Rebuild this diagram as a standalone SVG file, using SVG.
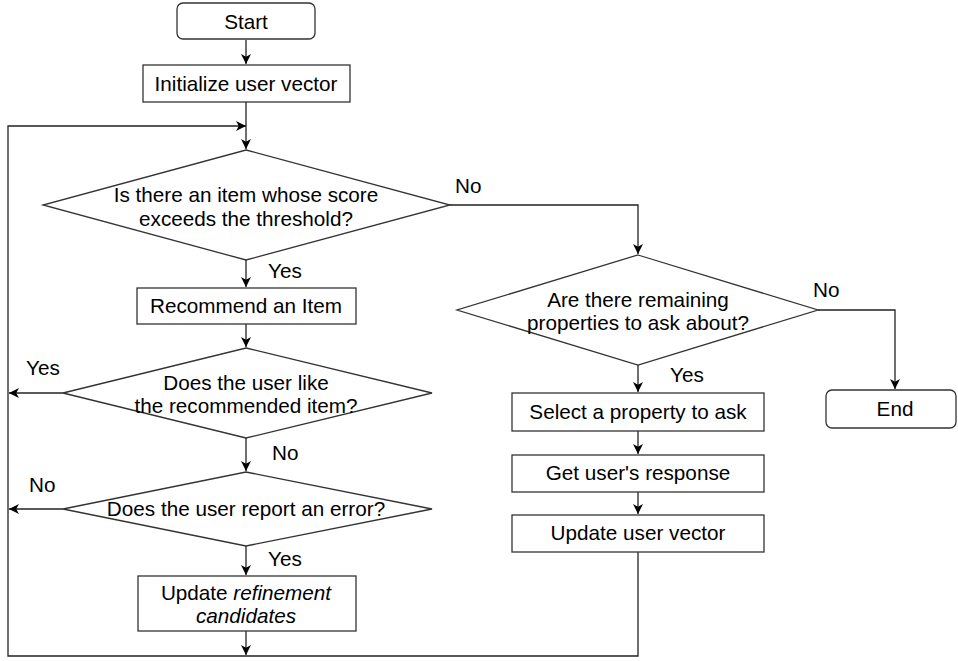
<svg xmlns="http://www.w3.org/2000/svg" width="958" height="661" viewBox="0 0 958 661">
<style>
.box{fill:#fff;stroke:#333;stroke-width:1.3}
.ln{fill:none;stroke:#222;stroke-width:1.3}
text{font-family:"Liberation Sans",Arial,sans-serif;font-size:20.7px;fill:#000}
.c{text-anchor:middle}
.i{font-style:italic}
</style>
<defs>
<marker id="ah" markerUnits="userSpaceOnUse" markerWidth="11" markerHeight="11" refX="10" refY="5.5" orient="auto">
<path d="M0,0.5 L10,5.5 L0,10.5 L2.8,5.5 z" fill="#000"/>
</marker>
</defs>
<g id="connectors">
<path class="ln" d="M246,40 V64" marker-end="url(#ah)"/>
<path class="ln" d="M246,102 V149" marker-end="url(#ah)"/>
<path class="ln" d="M638,552 V656 H8 V126 H246" marker-end="url(#ah)"/>
<path class="ln" d="M450,205 H638 V254" marker-end="url(#ah)"/>
<path class="ln" d="M246,260 V287" marker-end="url(#ah)"/>
<path class="ln" d="M246,324 V347" marker-end="url(#ah)"/>
<path class="ln" d="M63,393 H9" marker-end="url(#ah)"/>
<path class="ln" d="M246,438 V471" marker-end="url(#ah)"/>
<path class="ln" d="M63,509 H9" marker-end="url(#ah)"/>
<path class="ln" d="M246,546 V575" marker-end="url(#ah)"/>
<path class="ln" d="M246,631 V655" marker-end="url(#ah)"/>
<path class="ln" d="M818,310 H895 V389" marker-end="url(#ah)"/>
<path class="ln" d="M638,365 V392" marker-end="url(#ah)"/>
<path class="ln" d="M638,431 V454" marker-end="url(#ah)"/>
<path class="ln" d="M638,492 V514" marker-end="url(#ah)"/>
<text x="455" y="193">No</text>
<text x="268" y="278">Yes</text>
<text x="26" y="375">Yes</text>
<text x="272" y="460">No</text>
<text x="29" y="492">No</text>
<text x="268" y="566">Yes</text>
<text x="813" y="297">No</text>
<text x="670" y="382">Yes</text>
</g>
<g id="start">
<rect class="box" x="177" y="3" width="138" height="36" rx="6"/>
<text class="c" x="246" y="29">Start</text>
</g>
<g id="init">
<rect class="box" x="143" y="65" width="207" height="37"/>
<text class="c" x="246" y="91">Initialize user vector</text>
</g>
<g id="d1">
<polygon class="box" points="246,150 450,205 246,260 43,205"/>
<text class="c" x="246" y="202">Is there an item whose score</text>
<text class="c" x="246" y="226">exceeds the threshold?</text>
</g>
<g id="recommend">
<rect class="box" x="137" y="288" width="219" height="36"/>
<text class="c" x="246" y="313">Recommend an Item</text>
</g>
<g id="d3">
<polygon class="box" points="246,348 432,393 246,438 63,393"/>
<text class="c" x="246" y="390">Does the user like</text>
<text class="c" x="246" y="413">the recommended item?</text>
</g>
<g id="d4">
<polygon class="box" points="246,472 432,509 246,546 63,509"/>
<text class="c" x="246" y="516">Does the user report an error?</text>
</g>
<g id="refine">
<rect class="box" x="138" y="576" width="218" height="55"/>
<text class="c" x="246" y="600">Update <tspan class="i">refinement</tspan></text>
<text class="c i" x="246" y="623">candidates</text>
</g>
<g id="d2">
<polygon class="box" points="638,255 818,310 638,365 457,310"/>
<text class="c" x="638" y="307">Are there remaining</text>
<text class="c" x="638" y="330">properties to ask about?</text>
</g>
<g id="select">
<rect class="box" x="512" y="393" width="252" height="38"/>
<text class="c" x="638" y="419">Select a property to ask</text>
</g>
<g id="get">
<rect class="box" x="512" y="455" width="252" height="37"/>
<text class="c" x="638" y="480">Get user's response</text>
</g>
<g id="update">
<rect class="box" x="512" y="515" width="252" height="37"/>
<text class="c" x="638" y="540">Update user vector</text>
</g>
<g id="end">
<rect class="box" x="826" y="390" width="130" height="38" rx="6"/>
<text class="c" x="895" y="416">End</text>
</g>
</svg>
